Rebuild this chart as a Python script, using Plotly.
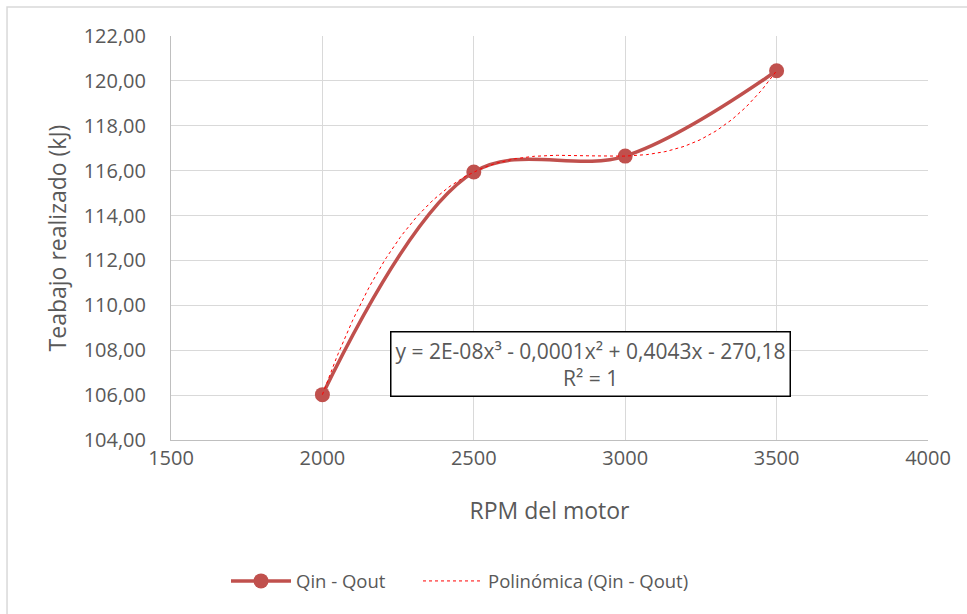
import numpy as np
import plotly.graph_objects as go

rpm = [2000, 2500, 3000, 3500]
trabajo = [106.02, 115.94, 116.65, 120.45]
series_name = "Qin - Qout"
trend_name = "Polinómica (Qin - Qout)"
y_ticks = [104, 106, 108, 110, 112, 114, 116, 118, 120, 122]
x_ticks = [1500, 2000, 2500, 3000, 3500, 4000]
equation = "y = 2E-08x³ - 0,0001x² + 0,4043x - 270,18<br>R² = 1"

coef = np.polyfit(rpm, trabajo, 3)
xt = np.linspace(min(rpm), max(rpm), 200)
yt = np.polyval(coef, xt)

FONT = "Open Sans"
TXT = "#595959"

fig = go.Figure()
fig.add_trace(go.Scatter(
    x=rpm, y=trabajo, name=series_name, mode="lines+markers",
    line=dict(color="#c0504d", width=3.5, shape="spline", smoothing=1.0),
    marker=dict(color="#c0504d", size=15), legend="legend",
))
fig.add_trace(go.Scatter(
    x=xt, y=yt, name=trend_name, mode="lines",
    line=dict(color="#ff0000", width=1, dash="dot"), legend="legend2",
))

fig.add_annotation(
    x=2885, y=107.4, xref="x", yref="y", text=equation, showarrow=False,
    font=dict(family=FONT, size=21, color=TXT), align="center",
    bgcolor="white", bordercolor="black", borderwidth=1.5, borderpad=4,
)

fig.add_shape(type="rect", xref="paper", yref="paper",
              x0=-0.2166, x1=1.07, y0=-0.46, y1=1.0718,
              line=dict(color="#d9d9d9", width=1.5), layer="below")

leg_common = dict(orientation="h", xanchor="left", y=-0.35, yanchor="middle",
                  font=dict(family=FONT, size=18.5, color=TXT), itemwidth=60,
                  bgcolor="rgba(0,0,0,0)")

fig.update_layout(
    width=967, height=614,
    margin=dict(l=171, r=39, t=36, b=174),
    paper_bgcolor="white", plot_bgcolor="white",
    font=dict(family=FONT, color=TXT, size=18),
    showlegend=True,
    legend=dict(x=(226 - 171) / 757, **leg_common),
    legend2=dict(x=(418 - 171) / 757, **leg_common),
    xaxis=dict(range=[1500, 4000], tickvals=x_ticks, ticktext=[str(v) for v in x_ticks],
               showgrid=True, gridcolor="#d9d9d9", gridwidth=1,
               showline=True, linecolor="#bfbfbf", linewidth=1, mirror=False,
               zeroline=False, ticks="", tickfont=dict(size=20, color=TXT),
               title=dict(text="RPM del motor", font=dict(size=23, color=TXT), standoff=32)),
    yaxis=dict(range=[104, 122], tickvals=y_ticks,
               ticktext=[f"{v},00" for v in y_ticks],
               showgrid=True, gridcolor="#d9d9d9", gridwidth=1,
               showline=True, linecolor="#bfbfbf", linewidth=1,
               zeroline=False, ticks="", ticklabelstandoff=20, tickfont=dict(size=20, color=TXT),
               title=dict(text="Teabajo realizado (kJ)", font=dict(size=23, color=TXT), standoff=10)),
)

fig.write_html("out.html")
